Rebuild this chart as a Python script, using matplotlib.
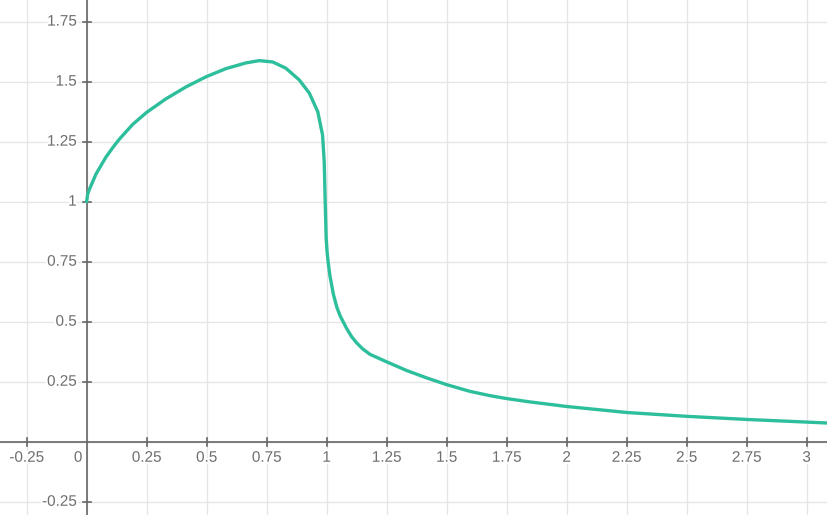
import matplotlib
matplotlib.use("Agg")
import matplotlib.pyplot as plt
import matplotlib.patheffects as pe
import numpy as np

# Curve samples
curve_x = [0.0, 0.004, 0.011, 0.039, 0.08, 0.111, 0.136, 0.192, 0.25, 0.33, 0.414,
           0.497, 0.58, 0.664, 0.719, 0.775, 0.83, 0.886, 0.928, 0.963, 0.983,
           0.99, 0.994, 0.998, 1.002, 1.007, 1.014, 1.028, 1.042, 1.056, 1.083,
           1.104, 1.125, 1.15, 1.181, 1.25, 1.333, 1.417, 1.5, 1.597, 1.681, 1.75,
           1.847, 2.0, 2.25, 2.5, 2.75, 3.0, 3.09]
curve_y = [1.0, 1.03, 1.05, 1.115, 1.185, 1.228, 1.26, 1.322, 1.372, 1.428, 1.478,
           1.52, 1.554, 1.578, 1.5875, 1.582, 1.556, 1.507, 1.452, 1.375, 1.278,
           1.167, 1.0, 0.85, 0.79, 0.743, 0.69, 0.615, 0.562, 0.525, 0.4725,
           0.438, 0.412, 0.387, 0.364, 0.333, 0.297, 0.266, 0.238, 0.21, 0.192, 0.18,
           0.166, 0.147, 0.122, 0.106, 0.093, 0.082, 0.078]

x_ticks = [-0.25, 0.25, 0.5, 0.75, 1, 1.25, 1.5, 1.75, 2, 2.25, 2.5, 2.75, 3]
x_tick_labels = ["-0.25", "0.25", "0.5", "0.75", "1", "1.25", "1.5", "1.75", "2", "2.25", "2.5", "2.75", "3"]
y_ticks = [-0.25, 0.25, 0.5, 0.75, 1, 1.25, 1.5, 1.75]
y_tick_labels = ["-0.25", "0.25", "0.5", "0.75", "1", "1.25", "1.5", "1.75"]

W, H, DPI = 827, 515, 100
fig = plt.figure(figsize=(W / DPI, H / DPI), dpi=DPI)
ax = fig.add_axes([0, 0, 1, 1])
ax.set_xlim(-0.361, 3.085)
ax.set_ylim(-0.305, 1.840)
ax.axis("off")

grid_c = "#e6e6e6"
for gx in np.arange(-0.25, 3.26, 0.25):
    ax.axvline(gx, color=grid_c, lw=1.0, zorder=0)
for gy in np.arange(-0.25, 1.76, 0.25):
    ax.axhline(gy, color=grid_c, lw=1.0, zorder=0)

axis_c = "#666666"
ax.axhline(0, color=axis_c, lw=1.2, zorder=1)
ax.axvline(0, color=axis_c, lw=1.2, zorder=1)

px = 1 / 240.0  # data units per pixel
for t in x_ticks:
    ax.plot([t, t], [-4 * px, 4 * px], color=axis_c, lw=1.2, zorder=1)
for t in y_ticks:
    ax.plot([-4 * px, 4 * px], [t, t], color=axis_c, lw=1.2, zorder=1)

lab_c = "#6e6e6e"
halo = [pe.withStroke(linewidth=3, foreground="white")]
font = dict(family=["Liberation Sans", "DejaVu Sans"], fontsize=11, color=lab_c)
for t, s in zip(x_ticks, x_tick_labels):
    ax.text(t, -9 * px, s, ha="center", va="top", path_effects=halo, zorder=2, **font)
for t, s in zip(y_ticks, y_tick_labels):
    ax.text(-10 * px, t, s, ha="right", va="center", path_effects=halo, zorder=2, **font)
ax.text(-8.5 * px, -9 * px, "0", ha="center", va="top", path_effects=halo, zorder=2, **font)

ax.plot(curve_x, curve_y, color="#2dbf9b", lw=2.4, solid_joinstyle="round",
        solid_capstyle="round", zorder=3)

fig.savefig("out.png", dpi=DPI)
